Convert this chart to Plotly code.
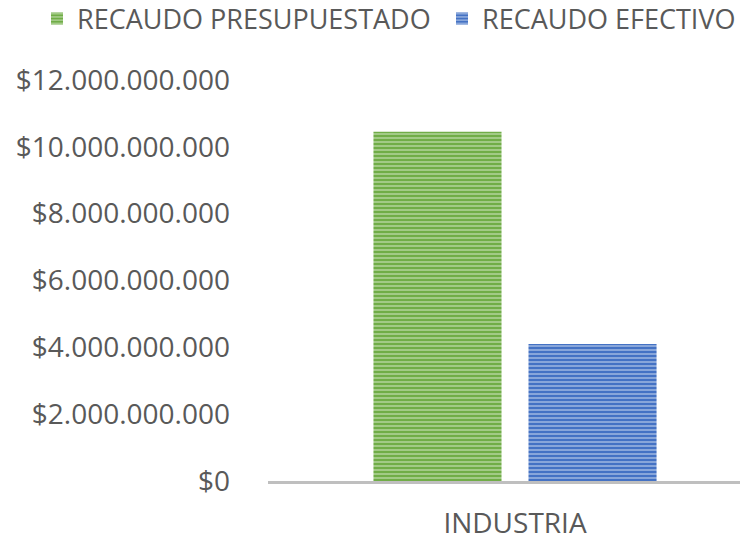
import plotly.graph_objects as go

categories = ["INDUSTRIA"]
series_names = ["RECAUDO PRESUPUESTADO", "RECAUDO EFECTIVO"]
presupuestado = [10450000000]
efectivo = [4100000000]
tick_vals = [0, 2e9, 4e9, 6e9, 8e9, 10e9, 12e9]
tick_text = ["$0", "$2.000.000.000", "$4.000.000.000", "$6.000.000.000",
             "$8.000.000.000", "$10.000.000.000", "$12.000.000.000"]

FONT = "Open Sans"
TXT = "#595959"
W, H = 740, 527  # page body has an 8px margin

fig = go.Figure()
fig.add_trace(go.Bar(
    name=series_names[0], x=categories, y=presupuestado, legend="legend",
    marker=dict(color="#70AD47", line=dict(width=0),
                pattern=dict(shape="-", fgcolor="#D3E8C6", bgcolor="#70AD47",
                             size=4, solidity=0.5, fillmode="overlay")),
))
fig.add_trace(go.Bar(
    name=series_names[1], x=categories, y=efectivo, legend="legend2",
    marker=dict(color="#4472C4", line=dict(width=0),
                pattern=dict(shape="-", fgcolor="#CCD9F0", bgcolor="#4472C4",
                             size=4, solidity=0.5, fillmode="overlay")),
))

leg_common = dict(orientation="h", xref="container", xanchor="left",
                  y=1 - 11 / H, yref="container", yanchor="middle",
                  font=dict(size=27, color=TXT, family=FONT),
                  itemwidth=30, bgcolor="rgba(0,0,0,0)")

fig.update_layout(
    width=W, height=H,
    margin=dict(l=260, r=0, t=72, b=54, autoexpand=False),
    paper_bgcolor="white", plot_bgcolor="white",
    barmode="group", bargap=0.354, bargroupgap=0.174,
    font=dict(family=FONT, color=TXT),
    showlegend=True,
    legend=dict(x=29 / W, **leg_common),
    legend2=dict(x=434 / W, **leg_common),
    xaxis=dict(type="category", range=[-0.5146, 0.4854], showgrid=False,
               showline=True, linecolor="#BFBFBF", linewidth=3,
               ticks="", tickfont=dict(size=28, color=TXT, family=FONT),
               ticklabelstandoff=15),
    yaxis=dict(range=[0, 12e9], tickvals=tick_vals, ticktext=tick_text,
               showgrid=False, zeroline=False, showline=False, ticks="",
               tickfont=dict(size=28, color=TXT, family=FONT),
               ticklabelstandoff=37),
)

fig.write_html("out.html")
